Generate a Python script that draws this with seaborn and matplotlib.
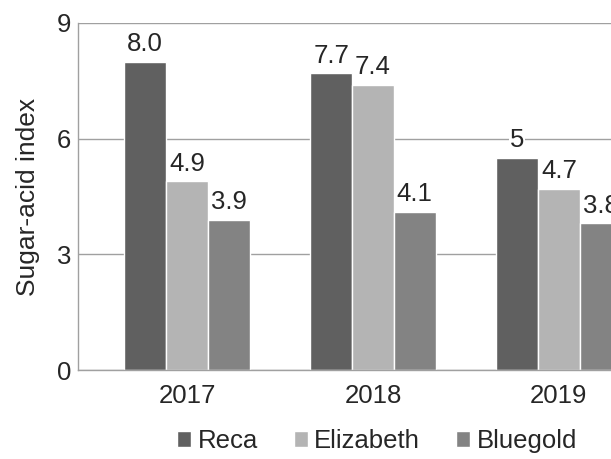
import matplotlib
matplotlib.use("Agg")
import matplotlib.pyplot as plt
import seaborn as sns
import pandas as pd

# dados
years = ["2017", "2018", "2019"]
varieties = ["Reca", "Elizabeth", "Bluegold"]
reca = [8.0, 7.7, 5.5]
elizabeth = [4.9, 7.4, 4.7]
bluegold = [3.9, 4.1, 3.8]
bar_labels = [["8.0", "7.7", "5"], ["4.9", "7.4", "4.7"], ["3.9", "4.1", "3.8"]]
colors = ["#606060", "#b4b4b4", "#838383"]

df = pd.DataFrame({
    "year": years * 3,
    "variety": [v for v in varieties for _ in years],
    "value": reca + elizabeth + bluegold,
})

sns.set_theme(style="white")
plt.rcParams["font.family"] = ["Liberation Sans", "DejaVu Sans"]

fig = plt.figure(figsize=(6.11, 4.59), dpi=100)
ax = fig.add_axes([78 / 611, 89 / 459, 1 - 78 / 611, 347 / 459])

sns.barplot(data=df, x="year", y="value", hue="variety", palette=colors,
            width=0.675, gap=0, saturation=1, ax=ax, legend=True)

# rótulos das barras
for cont, labs in zip(ax.containers, bar_labels):
    ax.bar_label(cont, labels=labs, padding=4, fontsize=18.5,
                 bbox=dict(facecolor="white", edgecolor="none", pad=0.5))

ax.set_ylim(0, 9)
ax.set_yticks([0, 3, 6, 9])
ax.set_xlim(-0.586, 2.28)
ax.yaxis.grid(True, color="#a0a0a0", linewidth=1)
ax.set_axisbelow(True)
ax.tick_params(axis="both", length=0, labelsize=18.5, pad=5)
ax.tick_params(axis="x", pad=10)
ax.set_xlabel("")
ax.set_ylabel("Sugar-acid index", fontsize=19, labelpad=12)
for s in ["top", "right"]:
    ax.spines[s].set_visible(False)
for s in ["left", "bottom"]:
    ax.spines[s].set_color("#a0a0a0")
    ax.spines[s].set_linewidth(1)

ax.legend(loc="center", bbox_to_anchor=(377 / 611, 18 / 459),
          bbox_transform=fig.transFigure, ncol=3, frameon=False,
          fontsize=18.5, handlelength=0.55, handleheight=0.55,
          handletextpad=0.25, columnspacing=1.4, title=None)

fig.savefig("out.png", dpi=100)
